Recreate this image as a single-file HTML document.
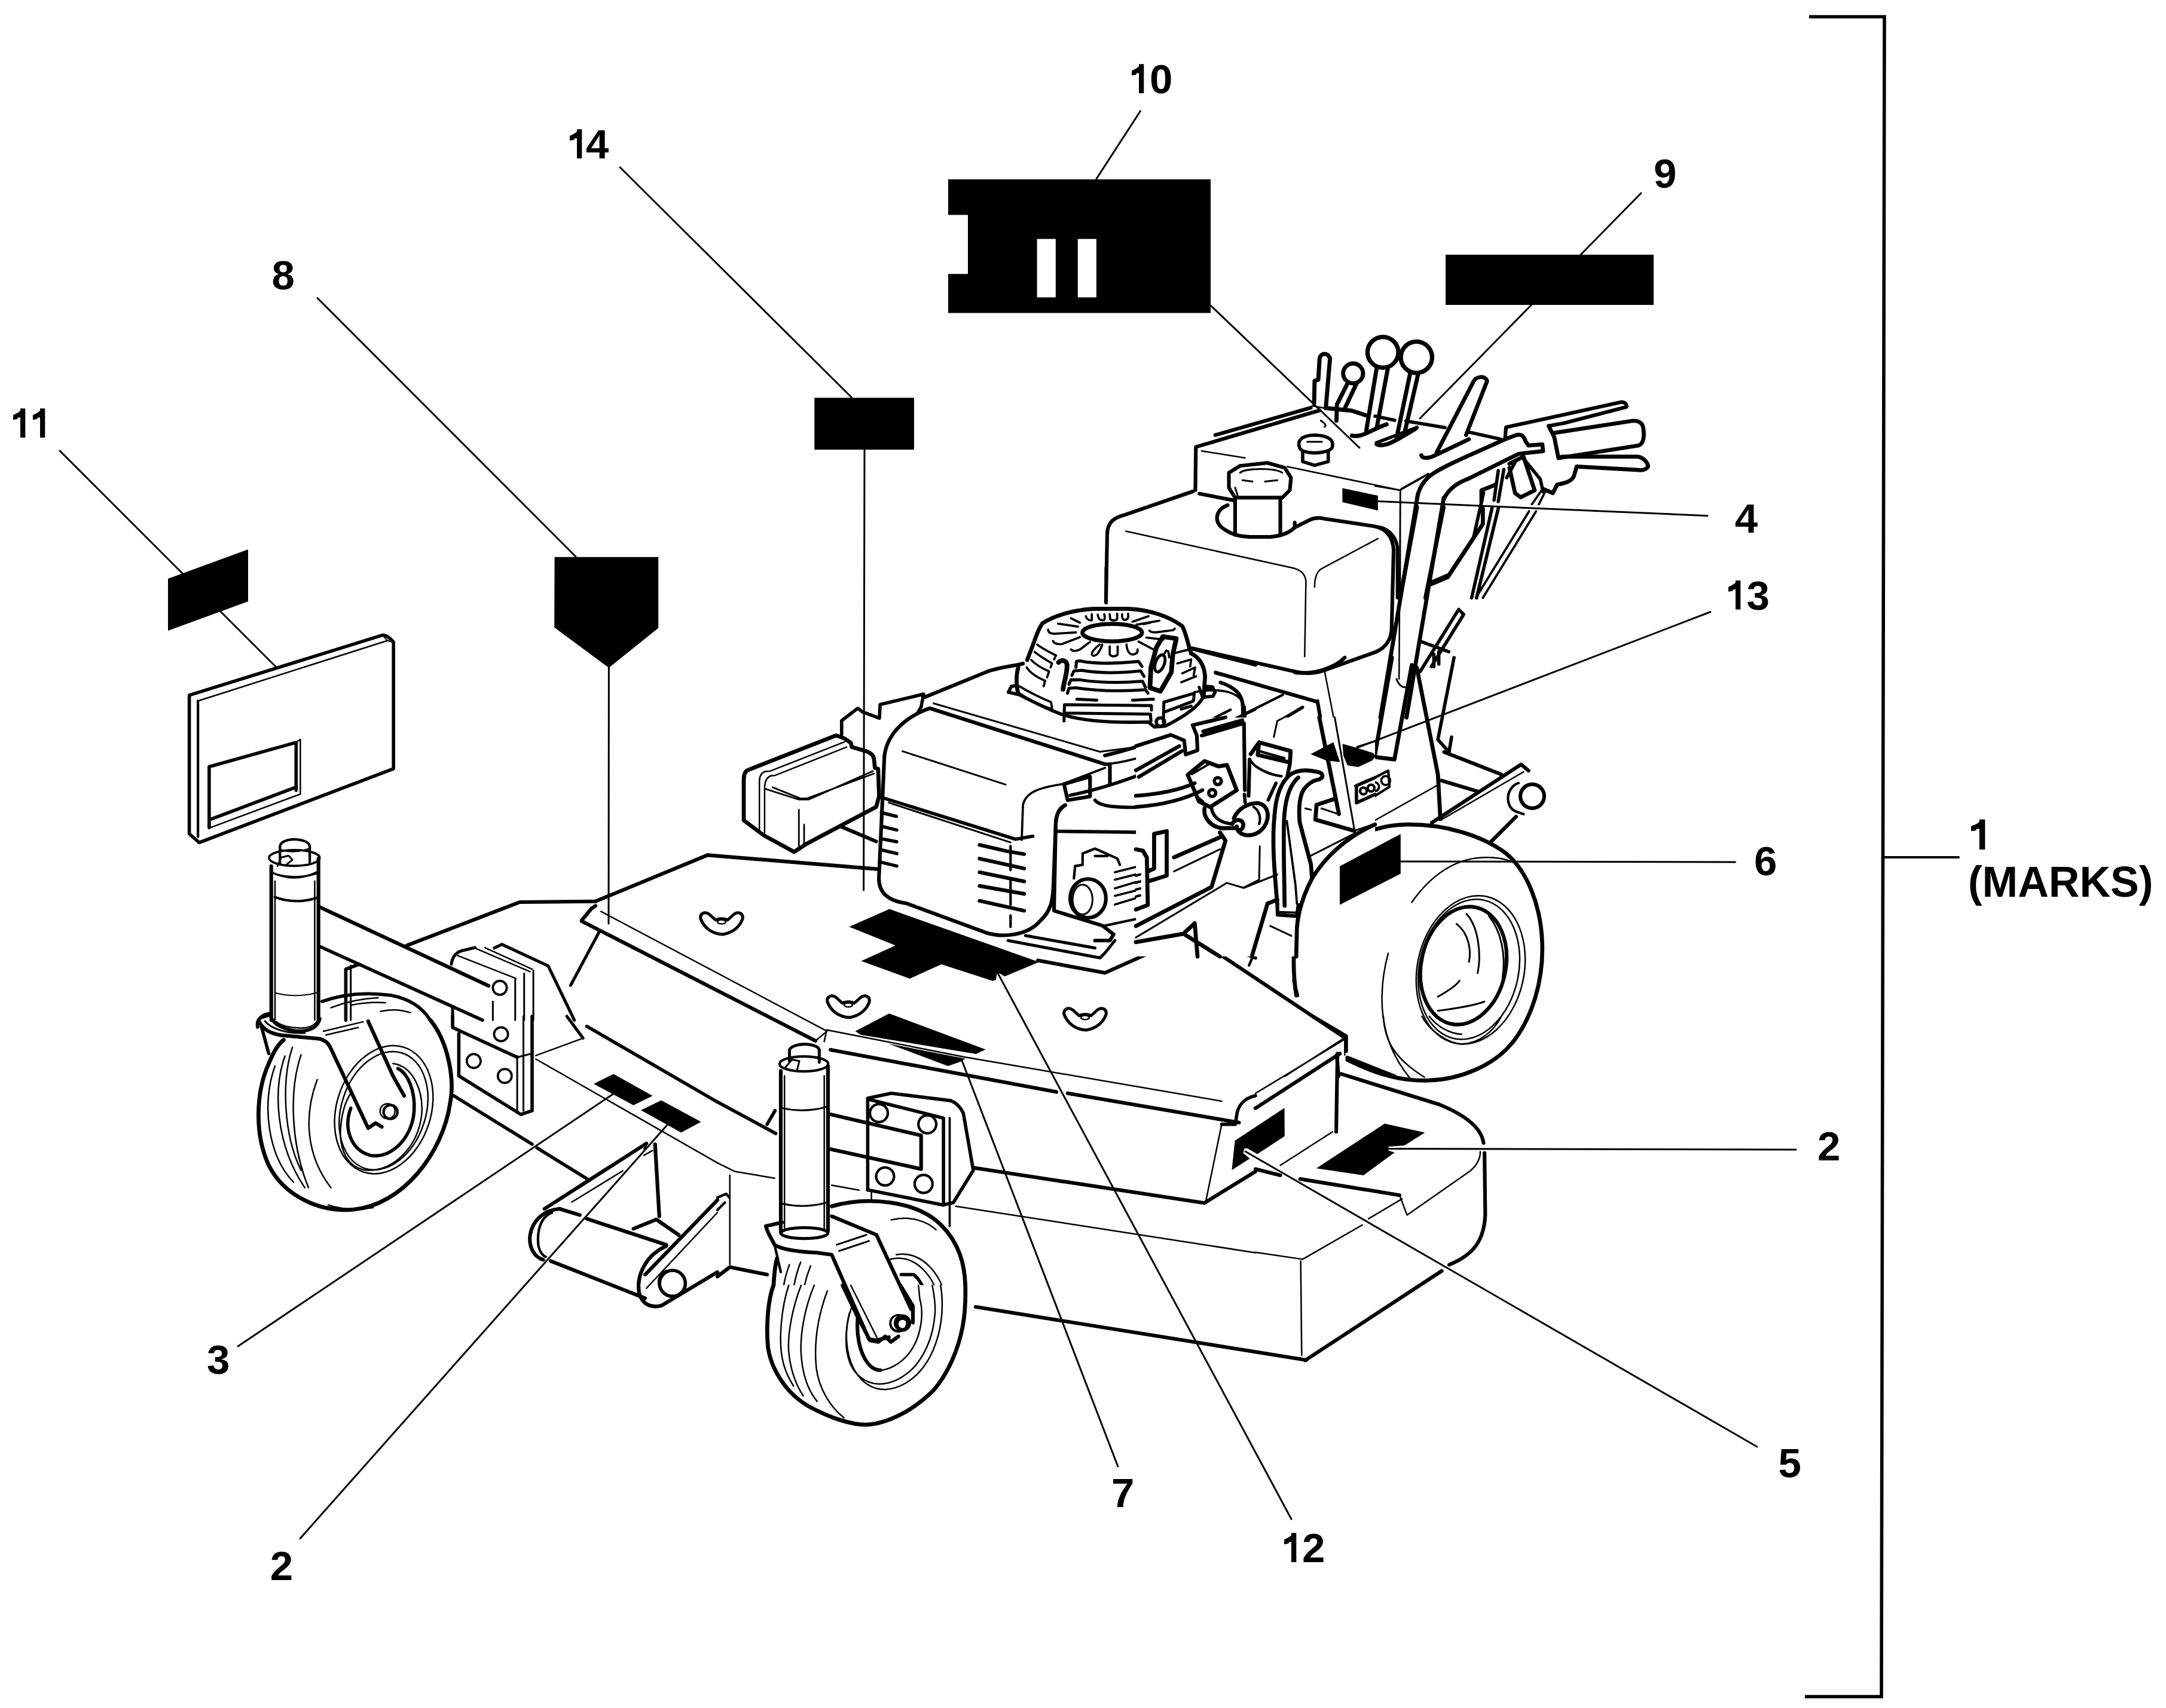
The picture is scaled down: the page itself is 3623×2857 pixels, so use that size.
<!DOCTYPE html>
<html><head><meta charset="utf-8"><style>
html,body{margin:0;padding:0;background:#fff;overflow:hidden}
svg{display:block}
svg text{font-family:"Liberation Sans",sans-serif;font-weight:bold}
.t path,.t line,.t polyline,.t ellipse,.t circle,.t polygon,.t rect{vector-effect:non-scaling-stroke}
</style></head><body>
<svg xmlns="http://www.w3.org/2000/svg" width="3623" height="2857" viewBox="0 0 3623 2857" fill="none" stroke="#000" stroke-linecap="round" stroke-linejoin="round">
<rect x="0" y="0" width="3623" height="2857" fill="#fff" stroke="none"/>
<defs>
<path id="one" d="M12 -48.7 L20.3 -48.7 L20.3 0 L12 0 L12 -33.8 L8.2 -33.6 L7 -31 L0 -29.8 L0 -37.8 C4.5 -39.6 9 -42 12 -45 Z" fill="#000" stroke="none"/>
</defs>
<!-- label text -->
<g fill="#000" stroke="none" font-size="69">
<use href="#one" x="22" y="732"/><use href="#one" x="55" y="732"/>
<text x="454.6" y="483.7">8</text>
<use href="#one" x="953" y="265"/><text x="980" y="265">4</text>
<use href="#one" x="1893" y="156"/><text x="1923" y="156">0</text>
<text x="2766" y="313.5">9</text>
<text x="2901.8" y="890.6">4</text>
<use href="#one" x="2891" y="1019.6"/><text x="2921.6" y="1019.6">3</text>
<text x="2934" y="1464">6</text>
<use href="#one" transform="translate(3297 1421) scale(1.15 1.03)"/>
<text x="3291.8" y="1499.7" font-size="71.5">(MARKS)</text>
<text x="3040" y="1941">2</text>
<text x="2974.5" y="2470.5">5</text>
<use href="#one" x="2148" y="2613"/><text x="2178" y="2613">2</text>
<text x="1859" y="2520.6">7</text>
<text x="346" y="2298">3</text>
<text x="451.7" y="2643">2</text>
</g>
<!-- bracket -->
<path d="M3026 28 L3152 28 L3147 2838 L3019 2838" stroke-width="5.60" stroke-linecap="butt" stroke-linejoin="miter"/>
<path d="M3151 1434 L3276 1434" stroke-width="4.24"/>
<!-- black label boxes -->
<g fill="#000" stroke="none">
<path d="M1586 300 L2025 300 L2025 523.5 L1586 523.5 L1586 458.3 L1619 458.3 L1619 359.4 L1586 359.4 Z"/>
<rect x="2418" y="426" width="348" height="84"/>
<rect x="1362.3" y="665.4" width="166.6" height="86.8"/>
<path d="M927.6 931.8 L1101.2 931.8 L1101.2 1050.5 L1018.4 1117 L927.2 1049.6 Z"/>
<path d="M281 968 L415 919 L415 1006 L281 1055 Z"/>
<path d="M2245.4 816.6 L2304.8 829.1 L2304.8 854 L2245.4 839.9 Z"/>
</g>
<g fill="#fff" stroke="none">
<rect x="1734.6" y="399.7" width="31.2" height="97.7"/>
<rect x="1802.8" y="399.7" width="31.1" height="97.7"/>
</g>
<!-- leader lines -->
<g stroke-width="3.00">
<path d="M100 754 L307 961"/><path d="M367 1021 L463 1117"/>
<path d="M531 498.7 L963 931"/>
<path d="M1018.4 1117 L1018 1545"/>
<path d="M1037 279.8 L1424.6 665"/>
<path d="M1446 752 L1444.6 1489"/>
<path d="M1907.5 185.7 L1834 299"/>
<path d="M2745 323 L2644 426"/><path d="M2561.5 510 L2375 700"/><path d="M2025 511 L2274 749"/>
<path d="M2305 838.6 L2856 862.7"/>
<path d="M2270.5 1250.6 L2861 1023.5"/>
<path d="M2342.8 1441 L2902.5 1442"/>
<path d="M2321.6 1921.6 L3004 1923"/>
<path d="M2083 1926 L2939 2420"/>
<path d="M2160 2541 L1668 1626"/>
<path d="M1869.8 2452.8 L1609.3 1774.7"/>
<path d="M398 2252 L1027 1829"/>
<path d="M502 2573.4 L1120.6 1876.6"/>
</g>

<!-- T1 origin (300,1000) s=2.4067 -->
<g class="t" transform="translate(300,1000) scale(0.41551)">
<!-- book -->
<path stroke-width="5.60" d="M40 392 L818 150 Q835 148 862 178 L862 688 L80 985 L40 950 Z"/>
<path stroke-width="2.50" d="M75 415 L838 172"/>
<path stroke-width="4.24" d="M75 415 L75 962"/>
<path stroke-width="2.00" d="M818 152 L838 172 L862 180"/>
<path stroke-width="5.60" d="M120 680 L470 582 L470 775 M120 680 L120 925 M130 890 L462 765"/>
<path stroke-width="2.50" d="M470 582 L487 570 L487 790 L125 925"/>
<!-- caster post -->
<path stroke-width="6.16" d="M370 1080 L370 1700 M560 1050 L560 1700"/>
<path stroke-width="2.50" d="M385 1140 L385 1700 M545 1140 L545 1700"/>
<path stroke-width="3.00" d="M372 1105 Q465 1150 558 1102"/>
<path stroke-width="4.24" d="M385 1205 Q470 1235 552 1208"/>
<path stroke-width="2.00" d="M385 1590 Q470 1612 552 1590"/>
<ellipse stroke-width="3.71" cx="463" cy="1047" rx="102" ry="32"/>
<path stroke-width="4.24" d="M405 1070 L405 1000 Q410 975 462 972 Q520 975 525 1000 L525 1065"/>
<path stroke-width="2.50" d="M410 1015 Q462 1030 522 1010"/>
<path stroke-width="3.00" d="M395 1080 L410 1045 L440 1038 L455 1055 L430 1075"/>
<path stroke-width="3.00" d="M385 1112 Q470 1135 552 1110"/>
<!-- arm -->
<path stroke-width="6.16" d="M565 1245 L1245 1562"/>
<path stroke-width="5.60" d="M568 1405 L1220 1700"/>
<path stroke-width="5.60" d="M670 1700 L670 1495 L725 1475"/>
<path stroke-width="3.00" d="M690 1480 L690 1700"/>
<!-- deck left edge -->
<path stroke-width="6.16" d="M915 1400 L1370 1225 L1675 1222"/>
<path stroke-width="6.16" d="M1675 1222 L2126 1036"/>
<path stroke-width="6.16" d="M1620 1298 L1660 1250 L1675 1240"/>

<path stroke-width="5.04" d="M1690 1345 L1575 1560"/>
<!-- bracket block -->
<path stroke-width="5.04" d="M1095 1475 Q1100 1430 1140 1420 L1190 1408"/>
<path stroke-width="5.04" d="M1268 1410 L1298 1395 L1485 1482 L1590 1700"/>
<path stroke-width="2.50" d="M1120 1440 L1355 1532 M1190 1410 L1412 1505 M1230 1408 L1420 1495"/>
<path stroke-width="3.00" d="M1352 1532 L1352 1700 M1388 1512 L1388 1700 M1425 1500 L1425 1700"/>
<circle stroke-width="3.71" cx="1290" cy="1570" r="28"/>
<path stroke-width="3.00" d="M1262 1625 L1262 1700"/>
<path stroke-width="5.04" d="M1100 1650 L1100 1700"/>
<!-- wheel top -->
<path stroke-width="5.60" d="M575 1625 Q700 1580 850 1600 Q960 1620 1010 1700"/>
<path stroke-width="2.50" d="M610 1650 Q700 1615 800 1610 M690 1640 Q760 1625 830 1630 M810 1665 Q870 1650 930 1670"/>
<path stroke-width="5.60" d="M330 1690 L360 1680"/>
<!-- misc -->

</g>

<!-- T2 origin (300,1700) s=2.4067 -->
<g class="t" transform="translate(300,1700) scale(0.41551)">
<!-- decals 3 and 2 -->
<path fill="#000" stroke="none" d="M1668 272 L1748 232 L1905 320 L1828 358 Z M1858 378 L1940 338 L2100 425 L2020 468 Z"/>
<!-- left caster tire -->
<path stroke-width="6.72" d="M1010 15 C1080 100 1110 250 1090 350 C1060 550 900 760 700 778 C560 790 420 720 360 600 C300 470 310 300 360 190 C380 140 400 110 420 95"/>
<path stroke-width="2.50" d="M385 200 C330 350 355 560 460 668 M425 160 C375 300 390 520 505 690 M455 125 C410 260 420 480 490 620 M490 155 C440 300 450 520 520 690 M555 255 C500 400 510 560 610 690 M600 760 C660 780 720 780 780 770"/>
<!-- rim / hub -->
<ellipse stroke-width="2.50" cx="823" cy="376" rx="190" ry="264" transform="rotate(18 823 376)"/>
<ellipse stroke-width="2.50" cx="822" cy="380" rx="170" ry="244" transform="rotate(18 822 380)"/>
<path stroke-width="5.60" d="M690 370 C660 450 690 540 770 560 C860 575 940 480 945 380 C950 300 920 230 880 210"/>
<path stroke-width="2.50" d="M860 190 C940 200 985 300 975 400 C960 520 870 620 760 620 C680 615 640 540 650 440 C655 390 670 340 690 310"/>
<!-- fork -->
<path stroke-width="6.16" d="M320 20 C340 60 380 75 430 78 L560 90 C590 95 600 110 610 130 L760 450 L790 430 L815 445"/>
<path stroke-width="6.16" d="M760 20 L860 240 L905 320"/>
<path stroke-width="5.60" d="M330 40 L360 150"/>
<path stroke-width="2.50" d="M580 60 L740 22 M590 75 L720 45"/>
<circle stroke-width="4.24" cx="850" cy="385" r="28"/>
<circle stroke-width="2.50" cx="838" cy="382" r="30"/>
<!-- mounting plate -->
<path stroke-width="5.60" d="M1100 0 L1100 45 L1360 165 M1125 70 L1125 240 L1375 395 L1420 380 L1420 0"/>
<path stroke-width="3.00" d="M1360 160 L1360 390 M1385 0 L1385 380 M1360 165 L1420 150"/>
<circle stroke-width="3.71" cx="1295" cy="72" r="28"/>
<circle stroke-width="3.71" cx="1185" cy="180" r="28"/>
<circle stroke-width="3.71" cx="1310" cy="240" r="28"/>
<!-- deck lines -->
<path stroke-width="5.60" d="M1640 40 L2166 345"/>
<path stroke-width="5.04" d="M1560 0 L1625 88"/>
<path stroke-width="2.50" d="M1625 88 L1435 158 M1435 172 L2166 590"/>
<path stroke-width="5.60" d="M1105 320 L1420 515 M1440 530 L1650 660"/>
<!-- front roller / hitch -->
<path stroke-width="6.16" d="M1470 775 L1880 512"/>
<path stroke-width="2.50" d="M1580 748 L1785 622"/>
<path stroke-width="6.16" d="M1532 775 C1460 780 1420 830 1412 880 C1405 930 1430 970 1465 980"/>
<path stroke-width="4.24" d="M1500 790 C1450 810 1440 870 1445 920 C1450 950 1465 965 1475 968"/>
<path stroke-width="6.16" d="M1530 775 L1612 800 M1640 815 L1960 920 M1495 985 L1875 1135"/>
<path stroke-width="6.16" d="M1915 515 L1932 805 M1828 855 L1920 818 L2010 880"/>
<circle stroke-width="5.60" cx="1985" cy="1075" r="52"/>
<path stroke-width="4.24" d="M1960 1025 C1920 1040 1920 1100 1965 1125"/>
<path stroke-width="6.16" d="M1960 925 C1880 960 1840 1040 1850 1110 C1860 1160 1900 1175 1940 1165 L2166 1030"/>
<path stroke-width="6.16" d="M1875 1040 L2166 740"/>
<path stroke-width="2.50" d="M1880 1095 L2166 790"/>
<path stroke-width="2.50" d="M1880 520 L1870 535 M1870 560 L1905 540"/>
</g>

<!-- T3 origin (1200,950) s=2.4067 -->
<g class="t" transform="translate(1200,950) scale(0.41551)">
<clipPath id="clipT3"><path clip-rule="evenodd" d="M-500 -500 H3000 V3000 H-500 Z M1685 602 H3000 V1564 H1685 Z"/></clipPath>
<g clip-path="url(#clipT3)">
<path stroke-width="5.60" d="M1565 0 L1565 140"/>
<!-- engine top plate edges -->
<path stroke-width="6.16" d="M1230 385 L1210 390 C1150 400 1100 410 1080 420 L835 520 L820 510"/>
<path stroke-width="6.16" d="M1910 325 L2166 390"/>
<path stroke-width="3.71" d="M2005 425 L2166 465 M1920 500 C2030 480 2110 500 2120 560"/>
<!-- shroud -->
<path stroke-width="6.16" d="M840 570 C740 610 680 680 672 760 L665 920 L650 1250 C650 1310 690 1340 760 1350 L1080 1468 C1150 1490 1250 1480 1300 1420 C1345 1380 1350 1330 1352 1290 L1362 1030 C1365 990 1375 965 1400 955"/>
<path stroke-width="6.16" d="M840 570 L855 565 L1560 790 L1580 790 L1580 870"/>
<path stroke-width="3.00" d="M870 545 L1540 740 L1930 690"/>
<path stroke-width="5.60" d="M665 925 L1200 1092 L1270 1080"/>
<path stroke-width="3.00" d="M690 945 L1180 1105"/>
<path stroke-width="3.00" d="M745 738 L1160 872"/>
<path stroke-width="3.71" d="M1225 1095 L1230 955 C1240 905 1290 885 1390 870 L1560 805"/>
<path stroke-width="6.16" d="M1910 630 L1930 720 L1890 730 L1870 680 C1790 680 1700 720 1600 745 L1560 755"/>
<path stroke-width="5.60" d="M660 985 L720 1000 M660 1040 L722 1055 M660 1090 L722 1102 M660 1135 L722 1150 M660 1185 L722 1200"/>
<path stroke-width="6.16" d="M1055 1115 L1165 1140 L1235 1152 M1055 1170 L1235 1210 M1055 1225 L1235 1262 M1055 1280 L1235 1312 M1055 1340 L1235 1380"/>
<path stroke-width="4.24" stroke-dasharray="40 18" d="M1180 1120 L1180 1445"/>
<!-- air cleaner -->
<path stroke-width="6.72" d="M106 1016 L106 856 C106 830 112 818 123 814 L165 797 L478 674 L512 687 L537 704 L541 721 L600 738 C618 745 628 755 630 767 L634 805 L647 809 L651 919 L639 962 L360 1110 L309 1143 L186 1076 Z"/>
<path stroke-width="2.50" d="M169 1063 L169 856 C170 835 178 823 195 819 L212 818 L512 700 M190 1067 L190 881 C192 855 200 842 215 837 L233 835 L520 721"/>
<path stroke-width="2.80" d="M195 890 L326 932 L368 932 L626 818 M222 883 L334 928 L360 928 L630 828"/>
<path stroke-width="2.80" d="M328 974 L328 1122 M349 1033 L349 1118"/>
<path stroke-width="5.60" d="M500 670 L500 615 L565 565 L585 580 L652 605 L655 550 L830 508 L820 560 L805 585"/>
<path stroke-width="6.16" d="M499 1042 L639 1101"/>
<!-- deck under -->
<path stroke-width="6.16" d="M-40 1156 L640 1212"/>


<!-- right: carb side -->
<path stroke-width="6.16" d="M1400 955 C1370 975 1362 1000 1362 1030 L1355 1380 L1550 1440 L1595 1475 L1580 1500 L1520 1500"/>
<path stroke-width="5.60" d="M1365 1060 L1760 1065 L1760 1180 M1750 1065 L1745 1200 L1730 1210"/>
<path stroke-width="4.24" d="M1470 1150 L1520 1130 L1610 1170 L1620 1195 M1520 1160 L1570 1160 M1470 1150 L1470 1195 L1440 1200 L1435 1250 M1690 1140 L1720 1135 L1730 1175 L1725 1405 L1560 1440"/>
<path stroke-width="3.71" d="M1600 1225 L1700 1200 M1600 1255 L1700 1230 M1600 1290 L1700 1260 M1600 1320 L1700 1295 M1600 1355 L1700 1325"/>
<ellipse stroke-width="6.16" cx="1492" cy="1330" rx="72" ry="78"/>
<ellipse stroke-width="3.00" cx="1470" cy="1335" rx="40" ry="60"/>
<path stroke-width="5.60" d="M1770 1060 L1780 1240 L1740 1260 M1810 1050 L1815 1220"/>
<path stroke-width="5.60" d="M1840 1165 L2020 1120 M1840 1220 L2020 1175"/>
<path stroke-width="6.16" d="M1395 870 L1500 840 L1500 920 L1410 935 Z"/>
<path stroke-width="5.60" d="M1420 915 C1600 880 1800 800 2000 700 L2166 640"/>
<path stroke-width="3.71" d="M1560 790 C1700 780 1900 700 2166 570"/>
<path stroke-width="5.60" d="M1520 935 C1540 960 1600 970 1800 960 C1900 950 1960 920 2000 880"/>
<path stroke-width="6.16" d="M1920 800 L1990 780 L2080 850 L2060 870 L2000 960 L1940 950 L1900 820 Z"/>
<ellipse stroke-width="3.71" cx="2010" cy="858" rx="12" ry="14"/>
<ellipse stroke-width="3.71" cx="1990" cy="905" rx="12" ry="14"/>
<path stroke-width="5.60" d="M1965 960 C1940 1000 1960 1030 2000 1040 C2050 1050 2080 1030 2090 1010"/>
<path stroke-width="5.60" d="M2166 740 C2140 750 2130 790 2140 820 M2140 950 C2110 960 2100 990 2120 1010 C2140 1040 2166 1040 2166 1040 M2166 910 L2110 990"/>
<path stroke-width="6.16" d="M2120 560 L2130 720 C2120 800 2110 900 2100 950"/>
<!-- engine base -->
<path stroke-width="5.04" d="M1170 1500 L1540 1570 L1560 1550 L1600 1500 M1240 1480 L1520 1530 M1690 1490 L2166 1265 M1850 1230 L2050 1180 L2166 1150"/>
<path stroke-width="6.16" d="M1560 1630 L2166 1360 M1560 1630 L1290 1580"/>
<path stroke-width="5.60" d="M1880 1460 L2166 1570 M1920 1430 L1920 1490"/>
<path stroke-width="4.24" d="M2140 1600 L2166 1540"/>
<!-- decal 12 -->
</g></g>
<path fill="#000" stroke="none" d="M1420.3 1550.2 L1487.7 1520.6 L1738 1609.3 L1680.7 1633.3 L1667.8 1625.9 L1666 1638.8 L1660.4 1640.7 L1574.5 1613 L1521.9 1637 L1440.6 1607.4 L1497.9 1581.6 Z"/>

<!-- T4 origin (1200,1650) s=2.4067 -->
<path fill="#000" stroke="none" d="M1430.5 1725 L1487.3 1695.2 L1648.6 1755.5 L1632.7 1763.1 L1440 1731 Z M1485.9 1745.8 L1614.7 1770.7 L1607.8 1775.6 L1585.6 1783.2 Z"/>
<g class="t" transform="translate(1200,1650) scale(0.41551)">
<clipPath id="clipT4w"><rect x="-200" y="-200" width="3000" height="1403"/></clipPath>
<!-- deck front plate lines -->

<path stroke-width="2.50" d="M440 175 L430 222 M440 175 L1000 285 L2030 462"/>
<path stroke-width="6.16" d="M455 255 L1365 425 M1410 430 L2100 548"/>
<path stroke-width="5.60" d="M2166 440 C2120 450 2095 480 2090 520 L2085 555 L2030 555"/>
<path stroke-width="2.50" d="M2030 555 L1965 870"/>
<path stroke-width="6.16" d="M1030 730 L1960 872 L2166 745"/>
<path stroke-width="2.50" d="M960 885 L2166 1072"/>


<!-- left side bits -->
<path stroke-width="5.60" d="M0 465 L235 592 M200 555 L232 500"/>
<path stroke-width="2.50" d="M0 710 L70 745 L230 772 M50 760 L50 1120"/>
<path stroke-width="6.16" d="M0 1168 L50 1130 L200 1160"/>
<path stroke-width="4.24" d="M0 850 L35 835 L48 850 M0 900 L30 870"/>
<!-- front caster post -->
<path stroke-width="6.16" d="M255 340 L255 990 M445 320 L445 985"/>
<path stroke-width="2.50" d="M270 360 L270 985 M430 360 L430 985"/>
<path stroke-width="3.00" d="M262 490 Q350 510 440 485 M262 875 Q350 895 440 870"/>
<ellipse stroke-width="4.24" cx="348" cy="312" rx="98" ry="30"/>
<path stroke-width="5.04" d="M290 300 L290 255 Q300 235 350 232 Q405 235 410 255 L410 305"/>
<path stroke-width="3.00" d="M270 330 L300 295 L330 300 L320 340"/>
<ellipse stroke-width="5.04" cx="350" cy="993" rx="95" ry="22"/>
<!-- fork -->
<path stroke-width="6.16" d="M230 1040 C215 1010 200 990 195 965 L260 950 M230 1040 C260 1060 320 1068 400 1072 L460 1080 L610 1420 L640 1425 L690 1412"/>
<path stroke-width="6.16" d="M460 925 L640 1000 L780 1300"/>
<path stroke-width="3.00" d="M480 1040 L600 1000 M490 1065 L610 1025"/>
<path stroke-width="4.24" d="M230 1040 L255 1150"/>
<circle stroke-width="4.24" cx="745" cy="1355" r="30"/>
<circle stroke-width="2.50" cx="730" cy="1355" r="32"/>
<!-- front caster tire -->
<path stroke-width="6.72" d="M460 885 C600 845 800 860 900 960 C975 1035 995 1120 998 1203"/>
<path stroke-width="6.72" d="M240 1095 C230 1130 228 1170 226 1203"/>
<g clip-path="url(#clipT4w)"><path stroke-width="2.50" d="M290 1120 C240 1250 240 1470 320 1680 M335 1110 C280 1250 280 1470 360 1680 M375 1125 C320 1260 320 1460 400 1650 M440 1230 C380 1350 390 1520 470 1700"/>
<path stroke-width="2.50" d="M700 940 C780 920 850 950 880 980 M690 1100 C780 1070 880 1150 900 1300 C920 1450 880 1580 800 1650 M720 1080 C820 1060 920 1160 930 1320"/>
<path stroke-width="5.60" d="M740 1160 L790 1160 C830 1190 860 1280 855 1380 C850 1480 780 1560 690 1570 C620 1570 580 1510 570 1430"/>
<path stroke-width="2.50" d="M545 1280 C510 1400 530 1560 640 1640 C700 1670 780 1650 820 1620"/></g>
<!-- mounting plate -->
<path stroke-width="5.60" d="M605 450 L605 820 M605 450 L700 430 L940 460 C965 470 980 490 990 510 L1030 740 L950 870 L910 880"/>
<path stroke-width="5.60" d="M610 455 L910 530 L910 880 L610 820"/>
<path stroke-width="3.71" d="M935 530 L935 965"/>
<circle stroke-width="4.24" cx="650" cy="510" r="36"/>
<circle stroke-width="4.24" cx="845" cy="555" r="36"/>
<circle stroke-width="4.24" cx="675" cy="765" r="36"/>
<circle stroke-width="4.24" cx="830" cy="795" r="36"/>
<!-- arm -->
<path stroke-width="6.16" d="M455 515 L820 600 L820 735 L455 655"/>
<path stroke-width="2.50" d="M460 800 L570 820 M620 820 L620 860"/>
</g>

<!-- T5 origin (1800,500) s=2.4067 -->
<g class="t" transform="translate(1800,500) scale(0.41551)">
<!-- fuel tank -->
<path stroke-width="6.16" d="M120 1220 L125 950 C125 900 150 880 200 868 L470 775"/>
<path stroke-width="6.16" d="M880 920 L940 890 C960 880 980 880 1000 885 L1200 915 C1250 925 1275 960 1278 1010 L1270 1330 C1268 1370 1250 1400 1210 1420 L1000 1495 C960 1510 920 1510 880 1500 L460 1405"/>
<path stroke-width="2.50" d="M200 935 L880 1085 C910 1095 925 1115 925 1140 L920 1440"/>
<path stroke-width="2.50" d="M960 1160 C960 1120 970 1095 990 1085 L1215 965"/>
<!-- fuel cap -->
<path stroke-width="6.16" d="M640 800 L640 950 M822 800 L822 945"/>
<path stroke-width="6.16" d="M640 800 L615 760 L615 700 L660 672 L770 660 L840 680 L865 720 L860 770 L830 800 Z"/>
<path stroke-width="3.00" d="M660 700 C680 680 800 680 830 700 M670 730 L710 735 M760 735 L810 730 M640 760 L650 790"/>
<path stroke-width="6.16" d="M610 830 C560 850 550 900 600 930 C630 950 660 958 700 958 L780 958 C830 955 860 940 880 920 L880 900"/>
<!-- control tower -->
<path stroke-width="6.16" d="M480 770 L482 596 L980 449"/>
<path stroke-width="6.16" d="M496 784 L640 812"/>
<path stroke-width="6.16" d="M560 548 L945 438"/>
<path stroke-width="2.50" d="M505 612 L680 640 M850 675 L1305 770 L1300 1530 M1305 770 L1420 705"/>
<path stroke-width="2.50" d="M950 430 L1000 440"/>
<!-- small cap -->
<path stroke-width="5.60" d="M912 615 L912 655 L960 670 L1015 655 L1015 615"/>
<path stroke-width="5.60" d="M900 600 C890 575 900 550 960 548 C1020 550 1040 570 1030 600 C1020 615 980 620 960 620 C930 620 905 612 900 600 Z"/>
<path stroke-width="3.00" d="M930 575 L990 575"/>
<!-- levers & knobs -->
<path stroke-width="6.94" d="M958 420 L960 330 L975 325 L980 240 C985 215 1015 215 1022 240 L1005 440"/>
<circle stroke-width="6.94" cx="1115" cy="300" r="40"/>
<path stroke-width="6.94" d="M1095 335 L1050 425 L1048 490 M1130 338 L1082 440"/>
<circle stroke-width="7.28" cx="1235" cy="215" r="62"/>
<path stroke-width="6.94" d="M1210 278 L1168 530 M1255 278 L1210 520"/>
<circle stroke-width="7.28" cx="1370" cy="235" r="63"/>
<path stroke-width="6.94" d="M1345 298 L1290 560 M1378 298 L1322 540"/>
<path stroke-width="6.94" d="M1010 440 L1110 450 L1170 470 M1110 550 C1150 560 1180 530 1250 505 M1210 585 C1240 600 1280 575 1370 520"/>
<path stroke-width="3.00" d="M985 490 C1000 500 1010 510 1000 515"/>
<!-- handle tubes down -->
<path stroke-width="6.72" d="M1375 790 L1225 1685"/>
<path stroke-width="6.72" d="M1480 800 L1330 1685"/>
<path stroke-width="5.60" d="M1430 1140 L1500 1110 L1600 960 L1640 780"/>
<path stroke-width="5.60" d="M1385 1500 L1540 1250 L1560 1270 L1430 1480 M1390 1380 L1500 1420 M1440 1430 L1440 1480 M1460 1420 L1460 1470"/>
<path stroke-width="3.00" d="M1290 1530 C1300 1560 1320 1570 1340 1560"/>
<!-- tank side / frame -->



</g>
<!-- T5b origin (2300,600) s=4.27 -->
<g class="t" transform="translate(2300,600) scale(0.23419)">
<path stroke-width="6.72" d="M300 1000 C310 930 350 870 400 830 C500 760 700 680 930 575 L1010 545 C1050 535 1065 560 1075 590 L1095 620 L1195 612 L1200 660 L1025 680 L660 860 C580 890 520 940 490 1005"/>
<path stroke-width="6.72" d="M300 1060 L180 1708 M490 1060 L360 1708"/>
<path stroke-width="6.16" d="M930 560 L935 490 L1200 432 L1760 310 C1790 310 1800 330 1795 345 L1350 460 L1240 480"/>
<path stroke-width="6.72" d="M1240 480 L1280 560 L1310 710 L1880 620 C1920 610 1925 550 1915 490 C1905 445 1860 440 1830 445 L1280 530"/>
<path stroke-width="6.72" d="M1335 700 L1870 700 C1910 700 1950 740 1950 770 C1940 790 1910 800 1880 795 L1440 770 L1420 840 C1400 880 1350 890 1300 900 L1270 960 L1200 930"/>
<path stroke-width="6.72" d="M440 670 L700 170 C720 120 790 120 800 160 L650 545 M330 690 C340 715 380 715 430 690 L670 575"/>

<path stroke-width="5.60" d="M0 410 L140 440 M220 445 L500 492 M660 522 L900 575 M10 600 L300 490"/>
<path stroke-width="2.50" d="M0 910 L180 940 L180 1708 M185 930 L380 820"/>
<path stroke-width="6.72" d="M760 1020 L760 940 L860 900 M770 1070 L770 1180 L520 1560 L400 1610"/>
<path stroke-width="5.60" d="M835 1070 L690 1708 M880 1070 L725 1708 M850 1010 L880 800 M880 1020 L920 790"/>
<path stroke-width="3.71" d="M1100 1090 L720 1708 M1150 1090 L770 1708 M1120 1040 L1190 940 M1170 1040 L1220 940"/>
<path stroke-width="6.72" d="M960 780 L1000 960 L1040 990 L1140 940 L1060 700 L960 750"/>
<path stroke-width="5.60" d="M1050 700 L1180 860 L1200 950 M1000 740 L940 850"/>
<path stroke-width="5.60" d="M0 1200 C80 1200 150 1260 160 1350 L160 1708"/>
</g>

<!-- T6 origin (2000,1100) s=2.4067 -->
<path fill="#000" stroke="none" d="M2192.2 1261.6 L2230.3 1241.6 L2241.4 1274.8 L2217.9 1272 Z M2245.6 1244.3 L2270.5 1251.2 L2296.8 1259.6 L2301 1265.1 L2295.4 1272 L2271.9 1283.1 L2253.9 1280.3 L2247 1263.7 Z M2241 1449 L2342.8 1395 L2342.8 1461.5 L2241 1513.4 Z"/>
<g class="t" transform="translate(2000,1100) scale(0.41551)">
<clipPath id="clipT6"><path clip-rule="evenodd" d="M-500 -500 H3000 V3000 H-500 Z M-500 241 H722 V1203 H-500 Z"/></clipPath>
<g clip-path="url(#clipT6)">
<!-- right wheel tire -->
<path stroke-width="6.72" d="M405 1360 C380 1200 400 1000 480 870 C560 745 700 675 850 672 C1000 670 1150 715 1245 785 C1335 855 1390 1000 1395 1150 C1400 1300 1355 1450 1275 1550"/>
<path stroke-width="2.50" d="M775 1190 C745 1300 740 1420 770 1520 C790 1590 820 1640 860 1690"/>
<path stroke-width="2.50" d="M870 985 C950 870 1050 810 1150 805 C1230 800 1280 820 1300 840"/>
<ellipse stroke-width="2.50" cx="1107" cy="1257" rx="215" ry="302" transform="rotate(12 1107 1257)"/>
<ellipse stroke-width="2.50" cx="1100" cy="1255" rx="200" ry="285" transform="rotate(12 1100 1255)"/>
<ellipse stroke-width="6.16" cx="1078" cy="1240" rx="170" ry="240" transform="rotate(12 1078 1240)"/>
<path stroke-width="3.00" d="M1050 1072 C1100 1110 1110 1180 1100 1225 M1090 1032 C1140 1085 1150 1200 1135 1270 M1180 1040 C1230 1100 1250 1200 1235 1290 M975 1365 C1010 1345 1050 1320 1062 1300 M975 1422 C1050 1412 1120 1400 1162 1385"/>
<!-- deck below -->
<path stroke-width="6.16" d="M0 1130 L600 1530"/>
<path stroke-width="2.50" d="M600 1530 L600 1600 M600 1530 L360 1685"/>
<path stroke-width="6.16" d="M568 1600 L575 1685 M610 1610 L800 1685"/>
<path stroke-width="2.50" d="M0 1060 L980 510"/>
<path stroke-width="5.60" d="M0 965 L100 905 L140 912 L330 830"/>
<path stroke-width="5.60" d="M230 1190 L300 985 L335 978"/>
<path stroke-width="2.50" d="M300 1075 L390 1110"/>
<path stroke-width="5.60" d="M410 1360 L395 1300"/>
<!-- tower lower -->
<path stroke-width="6.16" d="M490 175 L570 630 M480 600 L640 690 L640 700 M480 600 L545 570"/>
<path stroke-width="2.50" d="M520 60 L642 690"/>
<path stroke-width="6.72" d="M790 0 L720 400 L800 410 L870 30"/>
<path stroke-width="6.72" d="M890 40 L975 470 L985 650"/>
<path stroke-width="5.60" d="M1040 0 L975 330 L1020 380 L1030 320"/>
<path stroke-width="6.16" d="M1000 380 L1230 470 M990 495 L1140 540"/>
<path stroke-width="6.16" d="M950 665 L1310 430 L1340 455 M1190 740 L1290 640"/>
<path stroke-width="2.50" d="M990 652 L1320 460"/>
<circle stroke-width="6.16" cx="1355" cy="558" r="48"/>
<path stroke-width="4.24" d="M1300 505 C1250 520 1240 600 1290 620 L1320 630"/>
<path stroke-width="4.24" d="M650 520 L775 455 L780 520 L660 595 Z"/>
<circle stroke-width="3.71" cx="680" cy="545" r="18"/>
<circle stroke-width="3.71" cx="720" cy="520" r="18"/>
<circle stroke-width="3.71" cx="765" cy="495" r="18"/>

<!-- engine right: tube, plug, coil -->
<path stroke-width="6.16" d="M345 1010 C320 800 330 600 360 520 C380 480 420 460 460 470 C480 475 505 480 500 490 L450 510 C420 540 410 600 420 700 L450 880 L440 925"/>
<path stroke-width="3.00" d="M370 560 L390 720 L400 880"/>
<path stroke-width="4.24" d="M335 1010 L335 1050 L380 1060 L405 1040 L405 1010"/>
<path stroke-width="6.16" d="M220 410 L260 345 L380 375 L375 440 L340 450 L330 700 M220 410 L215 560"/>
<path stroke-width="3.71" d="M265 380 L370 400"/>
<path stroke-width="6.16" d="M0 470 L60 420 L120 440 L160 530 L110 590 L40 610 L0 580"/>
<circle stroke-width="3.71" cx="85" cy="495" r="14"/>
<circle stroke-width="3.71" cx="65" cy="545" r="14"/>
<path stroke-width="6.16" d="M40 610 C30 650 60 680 110 680 C140 680 160 670 170 660"/>
<circle stroke-width="5.60" cx="185" cy="660" r="42"/>
<circle stroke-width="5.60" cx="250" cy="630" r="40"/>
<path stroke-width="5.60" d="M0 770 L110 720 L60 930"/>
<path stroke-width="4.24" d="M260 760 L255 900"/>
<!-- top-left -->
<path stroke-width="6.16" d="M80 60 L490 178"/>
<path stroke-width="6.16" d="M100 100 C160 120 190 150 190 200 L190 540"/>
<path stroke-width="4.24" d="M10 320 L350 150 M20 270 L140 210"/>
<path stroke-width="5.60" d="M310 320 L330 260 L430 200"/>
<path stroke-width="6.16" d="M400 60 C480 70 560 40 600 0"/>
</g></g>

<!-- T7 origin (2100,1700) s=2.4067 -->
<path fill="#000" stroke="none" d="M2065.6 1908.1 L2148.5 1853.3 L2148.8 1900.6 L2103.1 1930.5 L2086.2 1920.7 L2081 1921.2 L2079.6 1928.7 L2090.4 1938 L2060.4 1957.2 Z"/>
<path fill="#000" stroke="none" d="M2201.8 1954.3 L2316 1879.5 L2383.4 1894.5 L2349.3 1916.1 L2322.3 1918.1 L2322.3 1924.4 L2332.7 1927.7 L2280.7 1965.9 Z"/>
<g class="t" transform="translate(2100,1700) scale(0.41551)">
<path stroke-width="6.16" d="M230 0 L365 80 L365 140"/>
<path stroke-width="2.50" d="M355 95 L0 310"/>
<path stroke-width="6.16" d="M340 150 L0 370 M330 150 L325 465"/>
<path stroke-width="2.50" d="M310 465 L100 600"/>
<path stroke-width="6.16" d="M0 615 L100 640"/>
<path stroke-width="6.16" d="M345 232 L740 355 C850 400 910 450 918 510 M922 550 L925 800 C920 900 880 960 780 1000"/>
<path stroke-width="6.16" d="M750 1025 L200 1385"/>
<path stroke-width="2.50" d="M182 985 L186 1365 M0 950 L190 978 L430 840 M455 815 L590 735"/>
<path stroke-width="6.16" d="M180 655 L580 720"/>
<path stroke-width="2.50" d="M580 720 L610 800 L865 622 C890 600 905 575 905 545"/>
<path stroke-width="6.72" d="M370 175 C500 240 600 262 700 258 C820 254 960 200 1034 106"/>
<path stroke-width="2.50" d="M515 0 C520 100 560 170 680 245 M670 0 C700 60 780 110 830 112 C900 110 960 60 990 0 M700 0 C730 40 780 70 830 72"/>
</g>

<!-- source-coord fixes -->
<defs>
<g id="wing">
<path d="M-35 -8 C-37 -17 -28 -21 -21 -16 L-10 -6 C-5 -9 5 -9 10 -6 L21 -16 C28 -21 37 -17 35 -8 C31 4 20 15 2 18 C-18 17 -30 5 -35 -8 Z" stroke-width="5.04"/>
<ellipse cx="0" cy="-3" rx="7" ry="3.5" stroke-width="2.50"/>
</g>
</defs>
<use href="#wing" x="1207" y="1545"/>
<use href="#wing" x="1419" y="1684"/>
<use href="#wing" x="1815" y="1705"/>
<path stroke-width="6.16" d="M972.8 1540.7 L1364 1741"/>
<path stroke-width="2.50" d="M1364 1741 L1383.3 1724.9 M1005 1524.5 L1383.3 1724.9"/>
<!-- T4b front caster bottom: origin (1250,2150) s=4.332 -->
<g class="t" transform="translate(1250,2150) scale(0.23084)">
<path stroke-width="6.72" d="M190 0 C150 100 135 300 150 450 C175 620 290 790 450 880 C600 960 750 1010 860 1010 C1010 1005 1200 910 1350 760 C1460 630 1530 460 1560 300 C1580 200 1582 100 1580 0"/>
<path stroke-width="2.50" d="M300 0 C250 150 220 400 260 560 C280 640 310 690 335 730 M390 0 C330 150 290 350 300 480 C310 600 350 720 405 800 M485 0 C420 150 380 350 390 500 C400 650 440 760 505 840 M580 40 C520 200 480 400 500 600 C520 750 600 880 700 960"/>
<path stroke-width="6.16" d="M800 240 C790 350 810 480 870 560 C900 600 930 615 965 615"/>
<path stroke-width="2.50" d="M965 615 C1050 610 1150 540 1200 450 C1260 350 1280 200 1250 100 L1240 0"/>
<path stroke-width="2.50" d="M760 150 C720 250 700 400 730 520 C760 640 850 710 950 715 C1050 718 1150 660 1220 580 C1300 480 1350 350 1360 200 C1365 120 1350 50 1340 0"/>
<path stroke-width="2.50" d="M740 200 C705 330 710 500 780 620 C840 720 920 755 1000 755 C1100 750 1200 690 1270 600 C1350 500 1400 350 1410 200 C1415 100 1410 50 1400 0"/>
<path stroke-width="6.16" d="M690 0 L800 230 L890 400 L950 410 L1000 370 L1040 410 L1095 370"/>
<path stroke-width="2.50" d="M750 0 L940 380"/>
<path stroke-width="6.16" d="M1110 0 L1200 150 L1200 270"/>
<circle stroke-width="5.60" cx="1125" cy="280" r="42"/>
<circle stroke-width="2.50" cx="1095" cy="275" r="62"/>
</g>
<!-- left caster post base -->
<path stroke-width="5.60" d="M456 1706 C462 1718 490 1727 510 1724 C524 1722 533 1714 535 1704"/>
<path stroke-width="2.50" d="M462 1709 C472 1717 492 1721 512 1719 C522 1717 528 1713 531 1707"/>
<path stroke-width="5.60" d="M431 1718 C428 1706 438 1697 452 1695"/>
<path stroke-width="3.00" d="M443 1708 C455 1722 480 1729 510 1728"/>
<path stroke-width="6.16" d="M1632 2186 L2185 2275"/>

<!-- T8 origin (1900,1200) s=4.27 -->
<g class="t" transform="translate(1900,1200) scale(0.23419)">
<!-- shroud flange & top -->
<path stroke-width="6.16" d="M0 205 L250 125 L345 165 L355 265 L440 235 L435 130 L405 55 L640 0"/>
<path stroke-width="6.16" d="M0 378 L310 205 M20 425 L330 240"/>
<path stroke-width="6.16" d="M470 130 L770 42 M480 100 L760 20"/>
<path stroke-width="6.16" d="M772 42 L778 520"/>
<path stroke-width="6.16" d="M0 560 C200 545 340 505 420 470 M0 640 C200 625 350 585 475 520"/>
<!-- ignition coil -->
<path stroke-width="6.72" d="M370 410 L490 312 L590 350 L650 340 L720 520 L530 640 L450 600 Z"/>
<path stroke-width="3.71" d="M400 405 L520 335 M430 560 L480 600"/>
<circle stroke-width="5.60" cx="585" cy="455" r="25"/>
<circle stroke-width="5.60" cx="545" cy="540" r="25"/>
<!-- plug wire & boot -->
<path stroke-width="6.72" d="M490 650 C480 720 540 785 620 792 L720 790"/>
<path stroke-width="5.60" d="M540 650 C550 710 600 752 680 760"/>
<path stroke-width="6.72" d="M700 720 C730 650 800 612 870 612 C930 620 955 680 935 742 C915 805 860 842 800 842 C750 840 722 812 720 780"/>
<path stroke-width="6.72" d="M690 760 C700 730 740 725 760 745 C775 770 765 800 740 805"/>
<path stroke-width="4.24" d="M840 640 C880 660 895 720 880 760"/>
<path stroke-width="5.60" d="M775 550 L780 610"/>
<!-- filler neck -->
<path stroke-width="6.72" d="M820 262 L880 178 L1105 240 L1100 322 M880 178 L870 268 L1100 322"/>
<path stroke-width="4.24" d="M880 240 L1060 292"/>
<path stroke-width="6.16" d="M812 300 L805 560 M1100 330 L1080 430"/>
<path stroke-width="4.24" d="M820 310 C850 360 950 410 1040 420"/>
<path stroke-width="5.60" d="M945 590 L1000 470"/>
<!-- curved tube -->
<path stroke-width="6.72" d="M1010 1335 C990 1100 970 900 990 700 C1000 560 1040 460 1100 410 C1150 375 1220 370 1300 390 C1340 400 1342 430 1310 442 C1260 452 1230 472 1200 512 C1170 560 1160 640 1170 750 L1250 1050 L1258 1150"/>
<path stroke-width="6.72" d="M1062 1345 C1060 1100 1050 850 1060 700 C1070 560 1110 470 1160 430"/>
<path stroke-width="3.71" d="M1078 740 L1140 1200 L1150 1330"/>
<path stroke-width="6.16" d="M1010 1340 L1012 1410 L1150 1420 L1160 1340"/>
<path stroke-width="3.71" d="M1020 1390 L1150 1395"/>
<!-- tower base, right -->
<path stroke-width="6.72" d="M1310 0 L1450 690"/>
<path stroke-width="3.00" d="M1420 0 L1560 800"/>
<path stroke-width="6.72" d="M1290 625 L1420 582 M1290 625 L1282 730 L1560 810"/>
<path stroke-width="3.00" d="M1325 650 L1445 690"/>
<path stroke-width="5.60" d="M1570 490 L1708 430 M1575 490 L1575 610 L1708 550"/>
<circle stroke-width="4.24" cx="1625" cy="525" r="24"/>
<circle stroke-width="4.24" cx="1680" cy="505" r="24"/>
<path stroke-width="6.72" d="M1708 765 C1500 855 1350 1000 1258 1150 C1200 1260 1160 1380 1150 1500 L1145 1708"/>
<path stroke-width="3.00" d="M1560 810 L1708 760 M1245 990 L1560 830"/>
<path stroke-width="3.00" d="M1580 210 L1708 170 M1210 650 L1250 660"/>
<!-- lower-left engine base -->
<path stroke-width="6.72" d="M0 1490 L540 1212 L640 880 L600 822"/>
<path stroke-width="3.00" d="M0 1572 L650 1182 L770 1218 L1010 1122"/>
<path stroke-width="6.72" d="M272 1000 L610 852"/>
<path stroke-width="3.00" d="M272 1100 L600 942"/>
<path stroke-width="6.72" d="M0 942 L50 952 L78 1000 L85 1340 L0 1372 M85 1172 L220 1130 L220 812 L130 832 L130 1080 L85 1100"/>
<path stroke-width="4.24" d="M0 1130 L30 1122 M0 1180 L30 1172 M0 1230 L30 1222 M0 1280 L30 1272"/>
<path stroke-width="6.72" d="M0 1605 L340 1545 L600 1708 M340 1545 L420 1470 L440 1708"/>
<path stroke-width="6.72" d="M830 1700 L940 1330 L1010 1302"/>
<path stroke-width="3.00" d="M960 1490 L1110 1560 M885 920 L880 1160 L770 1215"/>
<path stroke-width="3.00" d="M985 140 L1010 25 L1060 0"/>
</g>

<!-- T9 starter dome: origin (1680,1000) s=6.0167 -->
<g class="t" transform="translate(1680,1000) scale(0.16620)">
<!-- outline -->
<path stroke-width="6.72" d="M230 625 L300 440 C320 380 350 300 385 255 C500 180 700 120 900 110 L1250 110 C1450 120 1650 180 1790 285 C1820 340 1840 420 1860 500 L1880 560"/>
<path stroke-width="6.72" d="M140 700 C120 760 115 880 140 960"/>
<path stroke-width="6.72" d="M1880 560 C1960 600 2010 680 2020 790 L2005 1000"/>
<!-- hub -->
<ellipse stroke-width="6.72" cx="1085" cy="350" rx="300" ry="88"/>
<!-- U slots top -->
<path stroke-width="3.71" d="M820 185 C830 215 850 230 880 225 L880 165 M940 170 C945 215 965 230 1000 225 C1015 215 1010 180 1005 165 M1060 165 L1065 215 C1080 232 1120 232 1135 215 L1135 160 M1185 165 C1180 200 1190 225 1220 222 C1245 215 1250 190 1245 160"/>
<!-- U slots bottom -->
<path stroke-width="3.71" d="M960 470 C920 500 880 540 880 570 C890 590 920 585 940 560 C960 530 980 500 985 470 M1060 490 L1060 570 C1080 595 1120 595 1140 570 L1140 490 M1230 470 C1230 530 1260 575 1300 570 C1340 560 1345 540 1340 520"/>
<!-- radial fins -->
<path stroke-width="3.71" d="M440 320 C440 350 460 360 500 362 L720 348 M490 435 C500 460 530 470 580 465 L760 395 M670 520 C690 540 720 540 760 520 L860 445 M670 205 L760 250 M540 260 L740 290 M1290 240 L1450 185 M1330 270 L1560 230 M1400 265 L1470 250 M1460 330 C1470 345 1500 350 1540 345 L1700 325 L1715 310 M1430 400 L1600 420 M1350 440 L1500 520"/>
<!-- left curved fins -->
<path stroke-width="3.71" d="M330 470 C380 510 450 545 520 580 L500 620 M305 545 C360 590 420 625 480 660 L465 700 M270 625 C320 680 380 710 450 740 L430 800 M225 700 C260 760 330 800 410 835 L395 890"/>
<!-- hook -->
<path stroke-width="7.84" d="M545 650 C570 620 620 625 630 670 C635 760 600 840 590 920"/>
<!-- middle horizontal fins -->
<path stroke-width="5.04" d="M720 700 L725 640 L760 635 C900 665 1100 665 1350 640 L1385 690 M680 780 L700 735 L780 730 C950 760 1150 760 1370 735 L1405 790 M650 870 L670 825 L760 825 C950 855 1150 860 1390 840 L1420 900 M635 960 L650 910 L720 905 C950 940 1150 945 1420 925 L1445 960"/>
<!-- rope handle -->
<path stroke-width="7.84" d="M1595 390 L1730 410 L1695 570 L1680 750 L1570 940 L1465 905 L1475 700 L1530 500 Z"/>
<ellipse stroke-width="5.04" cx="1565" cy="660" rx="45" ry="90" transform="rotate(20 1565 660)"/>
<path stroke-width="3.71" d="M1610 560 L1630 530 L1650 540 L1660 600"/>
<!-- right fins -->
<path stroke-width="3.71" d="M1700 560 L1860 520 M1740 660 L1880 620 L1870 690 M1790 760 L1920 700 L1905 780 M1780 850 L1930 790"/>
<!-- base ring -->
<path stroke-width="5.60" d="M40 950 L70 890 L120 885 M40 950 L150 975 C300 1050 450 1130 600 1180 C800 1240 1100 1260 1450 1250 L1510 1300 L1620 1290 C1800 1200 1950 1100 2000 1000 L2100 990 L2120 950 L2090 895 L2020 890"/>
<path stroke-width="3.71" d="M150 890 C250 950 350 1000 470 1050 L480 1110 M150 960 C250 1030 380 1090 480 1120"/>
<path stroke-width="5.04" d="M600 1240 L605 1075 L1480 1085 L1480 1130 M610 1160 L1470 1170 L1475 1240"/>
<path stroke-width="5.04" d="M730 1020 L930 1030 M1290 1030 L1500 1020"/>
<path stroke-width="5.04" d="M1600 1250 L1605 1050 L1910 960 L1905 1030 M1610 1150 L1900 1040 M1780 1120 L1880 1090"/>
<circle stroke-width="5.60" cx="1570" cy="1250" r="42"/>
<path stroke-width="5.04" d="M1960 900 L1990 990 M2030 920 L2100 900"/>
</g>

</svg>
</body></html>
